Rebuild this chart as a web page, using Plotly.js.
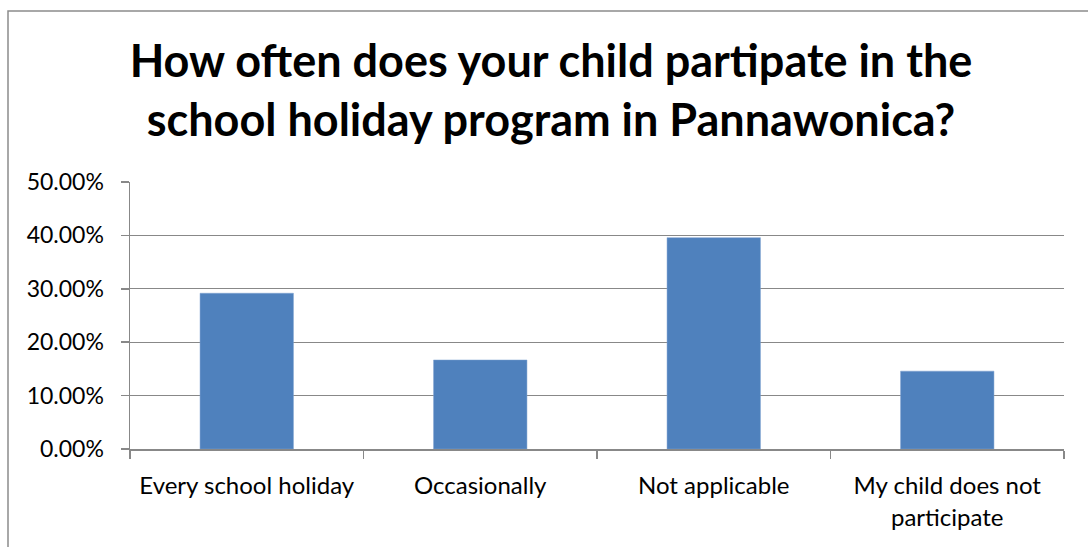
<!DOCTYPE html>
<html>
<head>
<meta charset="utf-8">
<script src="https://cdn.plot.ly/plotly-3.0.1.min.js"></script>
<style>html,body{margin:0;padding:0;background:#fff;}#chart{width:1088px;height:547px;}</style>
</head>
<body>
<div id="chart"></div>
<script>
const categories = ["Every school holiday", "Occasionally", "Not applicable", "My child does not<br>participate"];
const shares = [0.2917, 0.1667, 0.3958, 0.1458];
const yTicks = [0, 0.1, 0.2, 0.3, 0.4, 0.5];
const titleText = "How often does your child partipate in the<br>school holiday program in Pannawonica?";

const FONT = "Lato, 'Open Sans', sans-serif";
const trace = {
  type: "bar",
  x: categories,
  y: shares,
  marker: {color: "#4F81BD", line: {color: "#7FA3D0", width: 0.5}},
  hoverinfo: "x+y"
};
const layout = {
  width: 1088, height: 547,
  margin: {l: 130, r: 24, t: 182, b: 98},
  paper_bgcolor: "#ffffff",
  plot_bgcolor: "#ffffff",
  showlegend: false,
  bargap: 0.6,
  title: {
    text: titleText,
    font: {family: FONT, size: 45, color: "#000000", weight: "bold"},
    x: 551/1088, xanchor: "center", xref: "container",
    y: 1 - 77/547, yanchor: "top", yref: "container"
  },
  xaxis: {
    type: "category",
    showline: true, linecolor: "#888888", linewidth: 1.5,
    ticks: "outside", tickson: "boundaries", ticklen: 8, tickcolor: "#888888", tickwidth: 1.5,
    tickfont: {family: FONT, size: 24, color: "#000000"},
    ticklabelstandoff: 15,
    showgrid: false
  },
  yaxis: {
    range: [0, 0.5],
    tickvals: yTicks,
    tickformat: ".2%",
    showline: true, linecolor: "#888888", linewidth: 1.5,
    ticks: "outside", ticklen: 8, tickcolor: "#888888", tickwidth: 1.5,
    tickfont: {family: FONT, size: 23, color: "#000000"},
    ticklabelstandoff: 12,
    showgrid: true, gridcolor: "#888888", gridwidth: 1.2,
    zeroline: false
  },
  shapes: [{
    type: "rect", xref: "paper", yref: "paper",
    x0: (8-130)/934, x1: (1110-130)/934,
    y0: (449-570)/267, y1: (449-11)/267,
    line: {color: "#8c8c8c", width: 1.5}, fillcolor: "rgba(0,0,0,0)", layer: "above"
  }]
};
Plotly.newPlot("chart", [trace], layout, {displayModeBar: false, staticPlot: true});
</script>
</body>
</html>
